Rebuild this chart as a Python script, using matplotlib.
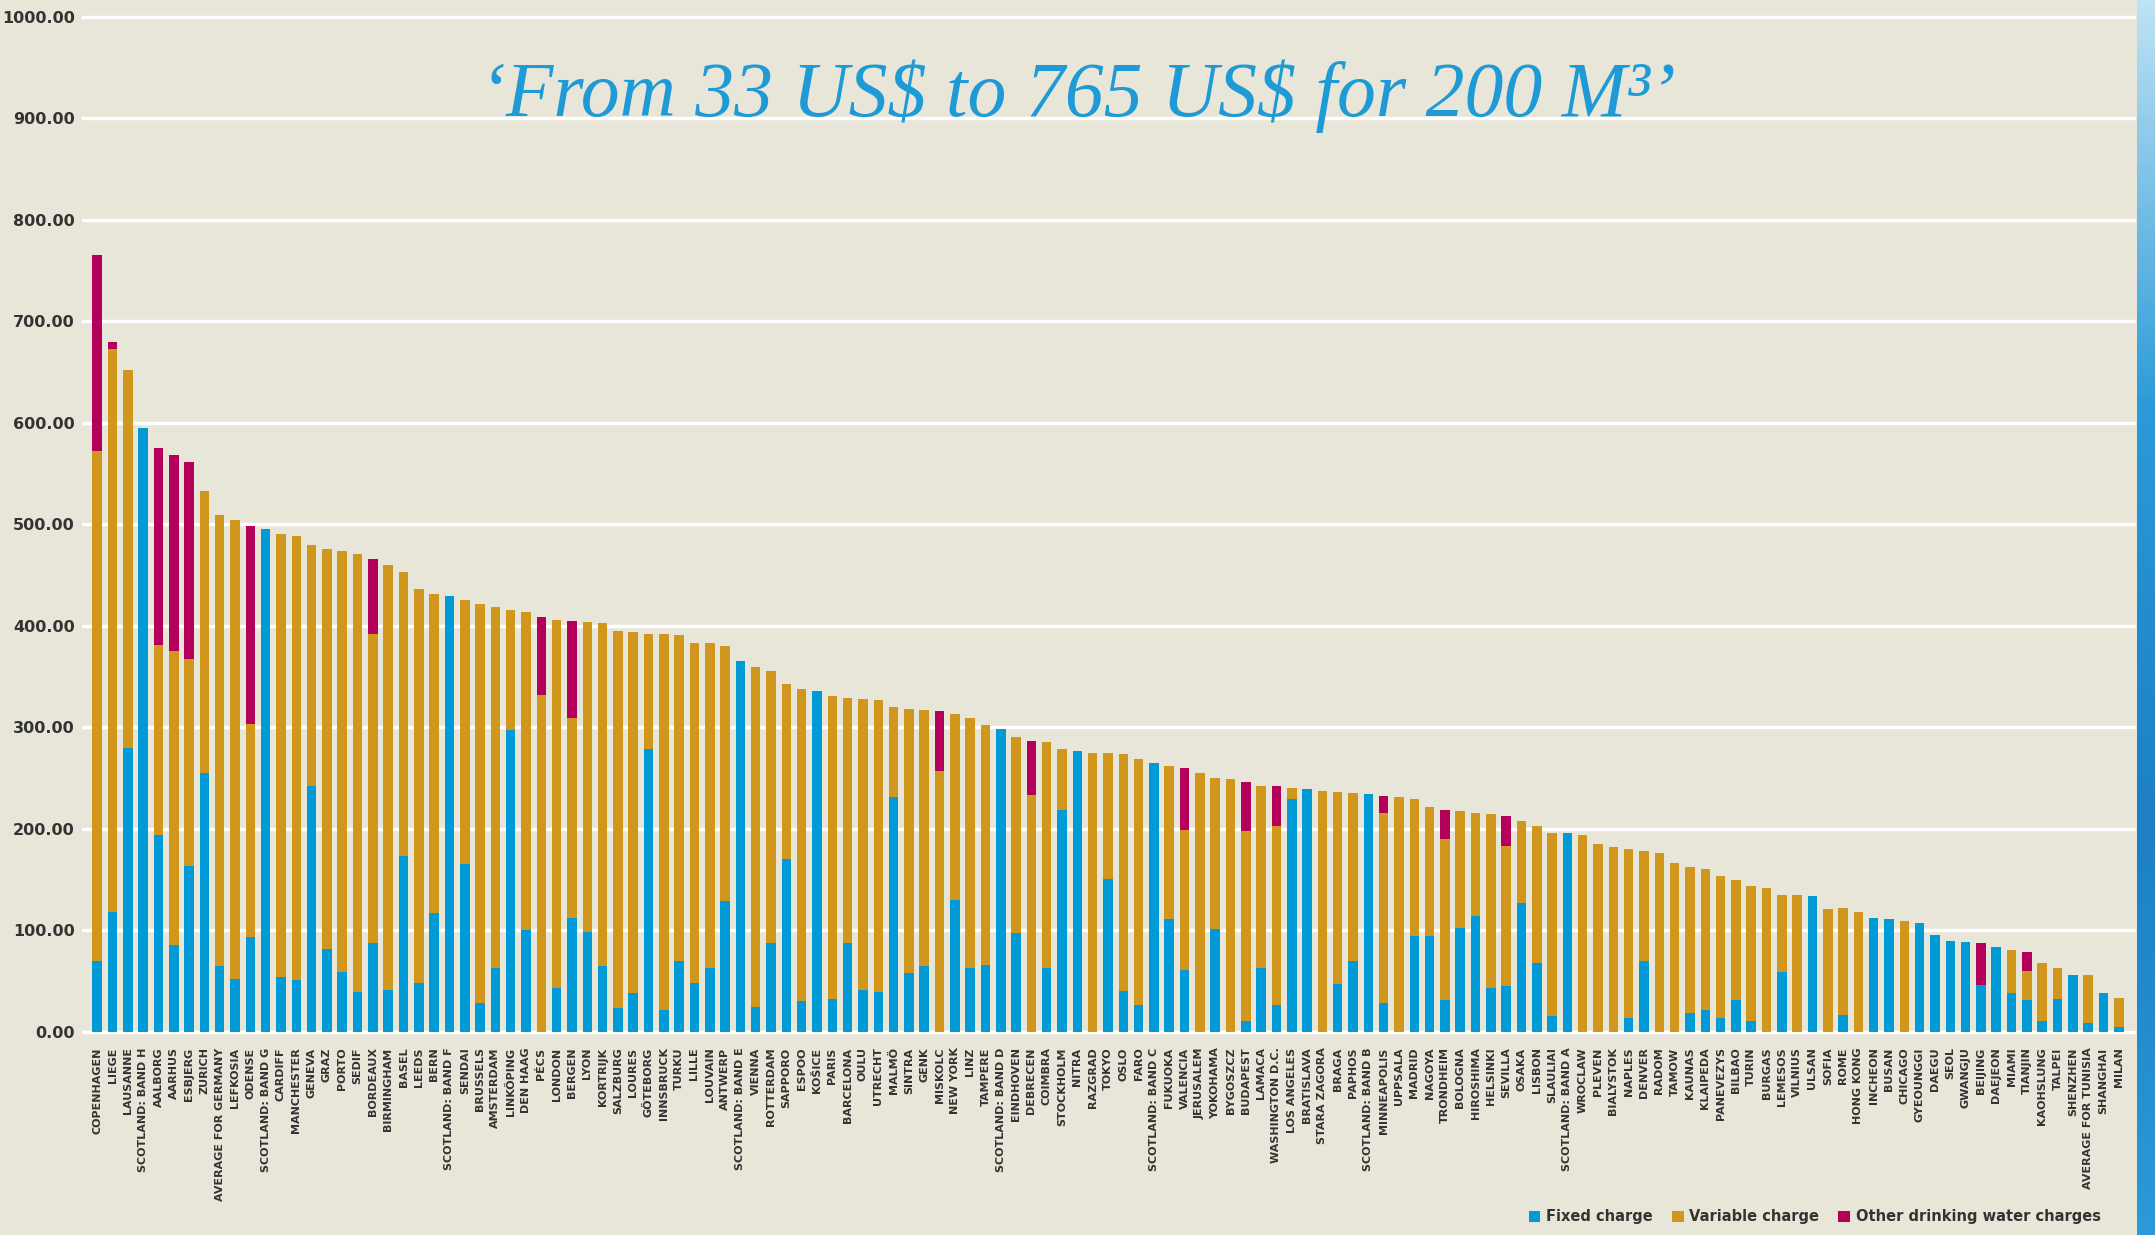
import matplotlib.pyplot as plt
import numpy as np
from matplotlib.patches import Patch

cities = ['COPENHAGEN', 'LIEGE', 'LAUSANNE', 'SCOTLAND: BAND H', 'AALBORG', 'AARHUS', 'ESBJERG', 'ZURICH',
          'AVERAGE FOR GERMANY', 'LEFKOSIA', 'ODENSE', 'SCOTLAND: BAND G', 'CARDIFF', 'MANCHESTER', 'GENEVA',
          'GRAZ', 'PORTO', 'SEDIF', 'BORDEAUX', 'BIRMINGHAM', 'BASEL', 'LEEDS', 'BERN', 'SCOTLAND: BAND F',
          'SENDAI', 'BRUSSELS', 'AMSTERDAM', 'LINKÖPING', 'DEN HAAG', 'PÉCS', 'LONDON', 'BERGEN', 'LYON',
          'KORTRIJK', 'SALZBURG', 'LOURES', 'GÖTEBORG', 'INNSBRUCK', 'TURKU', 'LILLE', 'LOUVAIN', 'ANTWERP',
          'SCOTLAND: BAND E', 'VIENNA', 'ROTTERDAM', 'SAPPORO', 'ESPOO', 'KOŠICE', 'PARIS', 'BARCELONA', 'OULU',
          'UTRECHT', 'MALMÖ', 'SINTRA', 'GENK', 'MISKOLC', 'NEW YORK', 'LINZ', 'TAMPERE', 'SCOTLAND: BAND D',
          'EINDHOVEN', 'DEBRECEN', 'COIMBRA', 'STOCKHOLM', 'NITRA', 'RAZGRAD', 'TOKYO', 'OSLO', 'FARO',
          'SCOTLAND: BAND C', 'FUKUOKA', 'VALENCIA', 'JERUSALEM', 'YOKOHAMA', 'BYGOSZCZ', 'BUDAPEST', 'LAMACA',
          'WASHINGTON D.C.', 'LOS ANGELES', 'BRATISLAVA', 'STARA ZAGORA', 'BRAGA', 'PAPHOS', 'SCOTLAND: BAND B',
          'MINNEAPOLIS', 'UPPSALA', 'MADRID', 'NAGOYA', 'TRONDHEIM', 'BOLOGNA', 'HIROSHIMA', 'HELSINKI',
          'SEVILLA', 'OSAKA', 'LISBON', 'SLAULIAI', 'SCOTLAND: BAND A', 'WROCLAW', 'PLEVEN', 'BIALYSTOK',
          'NAPLES', 'DENVER', 'RADOM', 'TAMOW', 'KAUNAS', 'KLAIPEDA', 'PANEVEZYS', 'BILBAO', 'TURIN', 'BURGAS',
          'LEMESOS', 'VILNIUS', 'ULSAN', 'SOFIA', 'ROME', 'HONG KONG', 'INCHEON', 'BUSAN', 'CHICAGO',
          'GYEOUNGGI', 'DAEGU', 'SEOL', 'GWANGJU', 'BEIJING', 'DAEJEON', 'MIAMI', 'TIANJIN', 'KAOHSLUNG',
          'TALPEI', 'SHENZHEN', 'AVERAGE FOR TUNISIA', 'SHANGHAI', 'MILAN']

fixed = [70, 118, 280, 595, 194, 86, 163, 255, 65, 52, 93, 495, 54, 51, 242, 82, 59, 39, 88, 41, 173, 48,
         117, 429, 165, 28, 63, 297, 100, 0, 43, 112, 98, 65, 24, 38, 279, 22, 70, 48, 63, 129, 365, 25, 88,
         170, 30, 336, 32, 88, 41, 39, 231, 58, 65, 0, 130, 63, 66, 298, 97, 0, 63, 219, 277, 0, 151,
         40, 26, 265, 111, 61, 0, 101, 0, 11, 63, 26, 229, 239, 0, 47, 70, 234, 28, 0, 94, 94, 31,
         102, 114, 43, 45, 127, 68, 16, 196, 0, 0, 0, 14, 70, 0, 0, 19, 22, 14, 31, 11, 0, 59,
         0, 134, 0, 17, 0, 112, 111, 0, 107, 95, 90, 89, 46, 84, 38, 31, 11, 32, 56, 9, 38, 5]

variable = [502, 555, 372, 0, 187, 289, 204, 278, 444, 452, 210, 0, 437, 438, 238, 394, 415, 432, 304, 419,
            280, 388, 314, 0, 260, 394, 356, 119, 314, 332, 363, 197, 306, 338, 371, 356, 113, 370, 321, 335,
            320, 251, 0, 334, 268, 173, 308, 0, 299, 241, 287, 288, 89, 260, 252, 257, 183, 246, 236, 0, 194,
            233, 223, 60, 0, 275, 124, 234, 243, 0, 151, 138, 255, 149, 249, 187, 179, 177, 11, 0, 237,
            189, 165, 0, 188, 231, 135, 128, 159, 116, 102, 172, 138, 81, 135, 180, 0, 194, 185, 182, 166,
            108, 176, 166, 143, 138, 140, 119, 133, 142, 76, 135, 0, 121, 105, 118, 0, 0, 109, 0, 0, 0, 0,
            0, 0, 43, 29, 57, 31, 0, 47, 0, 28]

other = [193, 7, 0, 0, 194, 193, 194, 0, 0, 0, 195, 0, 0, 0, 0, 0, 0, 0, 74, 0, 0, 0, 0, 0, 0, 0, 0, 0,
         0, 77, 0, 96, 0, 0, 0, 0, 0, 0, 0, 0, 0, 0, 0, 0, 0, 0, 0, 0, 0, 0, 0, 0, 0, 0, 0, 59, 0, 0, 0,
         0, 0, 54, 0, 0, 0, 0, 0, 0, 0, 0, 0, 61, 0, 0, 0, 48, 0, 39, 0, 0, 0, 0, 0, 0, 16, 0, 0, 0, 29,
         0, 0, 0, 30, 0, 0, 0, 0, 0, 0, 0, 0, 0, 0, 0, 0, 0, 0, 0, 0, 0, 0, 0, 0, 0, 0, 0, 0, 0, 0, 0, 0,
         0, 0, 42, 0, 0, 19, 0, 0, 0, 0, 0, 0]

series_names = ['Fixed charge', 'Variable charge', 'Other drinking water charges']
colors = ['#009BD7', '#D1961C', '#B4005A']
bg = '#E8E6D8'
text_color = '#333333'
label_fonts = ['Liberation Sans Narrow', 'DejaVu Sans']

fig = plt.figure(figsize=(21.55, 12.35), dpi=100, facecolor=bg)
ax = fig.add_axes([0.038, 0.162, 0.953, 0.826], facecolor=bg)

x = np.arange(len(cities))
fixed = np.array(fixed)
variable = np.array(variable)
other = np.array(other)
w = 0.62
ax.bar(x, fixed, w, color=colors[0], zorder=3)
ax.bar(x, variable, w, bottom=fixed, color=colors[1], zorder=3)
ax.bar(x, other, w, bottom=fixed + variable, color=colors[2], zorder=3)

ax.set_xlim(-1.0, len(cities) + 0.1)
ax.set_ylim(-3, 1002)
ax.set_yticks(np.arange(0, 1001, 100))
ax.set_yticklabels([f'{v:.2f}' for v in range(0, 1001, 100)], fontsize=11.5, fontweight='bold',
                   color=text_color)
ax.yaxis.grid(True, color='white', linewidth=2.5, zorder=0)
ax.set_axisbelow(True)
for s in ax.spines.values():
    s.set_visible(False)
ax.tick_params(axis='both', length=0)
ax.tick_params(axis='y', pad=5)

ax.set_xticks(x)
ax.set_xticklabels(cities, rotation=90, fontsize=8, fontweight='bold', color=text_color,
                   family=label_fonts)
ax.tick_params(axis='x', pad=9)

fig.text(0.50, 0.922, '\u2018From 33 US\\$ to 765 US\\$ for 200 M\u00b3\u2019', ha='center', va='center',
         fontsize=56, style='italic', color='#1E9AD6', family=['Liberation Serif', 'DejaVu Serif'])

handles = [Patch(facecolor=c, edgecolor='none') for c in colors]
fig.legend(handles, series_names, loc='lower right', bbox_to_anchor=(0.981, -0.002), ncol=3, frameon=False,
           handlelength=0.8, handleheight=0.8, handletextpad=0.4, columnspacing=1.3,
           prop={'family': label_fonts, 'weight': 'bold', 'size': 10.5}, labelcolor=text_color)

# blue strip on the right edge
strip = fig.add_axes([0.9916, 0.0, 0.0084, 1.0])
grad = np.linspace(0, 1, 256).reshape(-1, 1)
strip.imshow(grad, aspect='auto', cmap=plt.matplotlib.colors.LinearSegmentedColormap.from_list(
    'strip', ['#bfe2f4', '#2a9ad8', '#1d7fc4', '#2a9ad8']))
strip.axis('off')

fig.savefig('out.png', dpi=100, facecolor=bg)
